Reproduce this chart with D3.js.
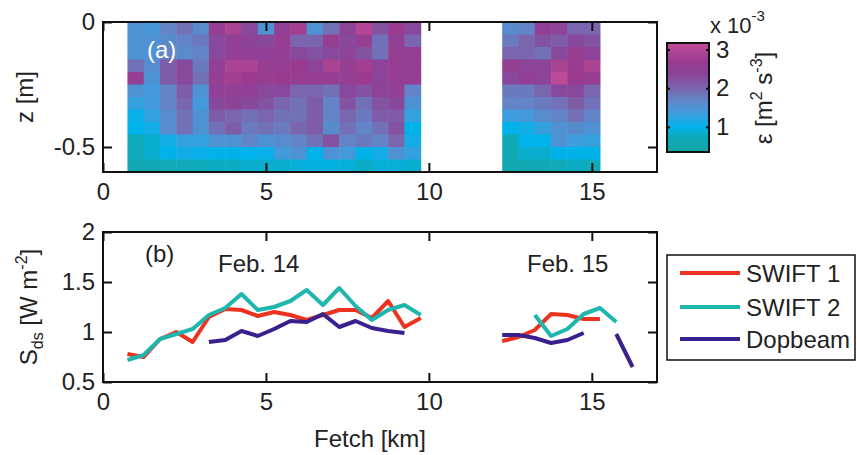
<!DOCTYPE html>
<html>
<head>
<meta charset="utf-8">
<script src="https://cdn.jsdelivr.net/npm/d3@7"></script>
<style>
  body { margin: 0; background: #fff; }
  svg text { font-family: "Liberation Sans", Arial, Helvetica, sans-serif; fill: #222; }
</style>
</head>
<body>
<div id="chart"></div>
<script>
// ---- data ----
// heat map cell centres
var cellFetch = [1.0, 1.5, 2.0, 2.5, 3.0, 3.5, 4.0, 4.5, 5.0, 5.5, 6.0, 6.5, 7.0, 7.5, 8.0, 8.5, 9.0, 9.5,
                 12.5, 13.0, 13.5, 14.0, 14.5, 15.0];
var cellDepth = [-0.025, -0.075, -0.125, -0.175, -0.225, -0.275, -0.325, -0.375, -0.425, -0.475, -0.525, -0.575];
// dissipation rate, x 10^-3 m^2 s^-3 (rows = depth, cols = fetch)
var epsilon = [
  [1.5, 1.45, 1.7, 1.9, 1.6, 2.6, 2.9, 2.3, 1.5, 2.5, 2.8, 1.5, 1.9, 2.4, 3.0, 2.2, 2.7, 2.3, 1.6, 1.7, 2.5, 2.4, 2.0, 2.0],
  [1.5, 1.5, 1.6, 1.7, 1.8, 2.3, 2.5, 2.4, 2.3, 2.6, 2.0, 2.0, 2.6, 2.3, 2.6, 1.9, 2.5, 2.0, 1.8, 2.0, 2.2, 2.1, 2.3, 2.2],
  [1.5, 1.5, 1.7, 1.6, 1.7, 2.3, 2.5, 2.5, 2.5, 2.6, 2.3, 2.2, 2.3, 2.4, 2.2, 1.9, 2.6, 2.6, 2.0, 2.0, 1.9, 2.3, 2.6, 2.4],
  [1.9, 1.6, 2.1, 2.3, 1.8, 2.5, 2.9, 2.9, 2.6, 2.6, 2.7, 2.4, 2.9, 2.6, 2.8, 2.4, 2.6, 2.6, 2.6, 2.4, 2.4, 2.9, 2.7, 2.9],
  [2.6, 1.5, 2.1, 2.3, 1.9, 2.6, 2.8, 2.7, 2.6, 2.7, 2.6, 2.6, 2.6, 2.6, 2.7, 2.4, 2.6, 2.6, 2.3, 2.5, 2.4, 3.1, 2.7, 2.6],
  [1.5, 1.4, 1.7, 2.1, 1.5, 2.5, 2.5, 2.5, 2.3, 2.3, 2.0, 2.0, 1.9, 2.3, 2.2, 2.4, 2.5, 1.7, 1.8, 1.8, 2.0, 2.3, 2.3, 2.0],
  [1.3, 1.4, 1.7, 2.0, 1.4, 2.3, 2.4, 2.3, 2.2, 2.0, 1.9, 2.1, 1.7, 2.2, 1.9, 2.2, 2.3, 1.5, 1.7, 1.7, 1.8, 1.9, 2.1, 1.9],
  [1.05, 1.3, 1.6, 1.9, 1.5, 2.1, 2.0, 1.9, 2.0, 1.9, 1.9, 2.1, 1.7, 2.0, 1.8, 2.1, 2.1, 1.3, 1.35, 1.4, 1.6, 1.7, 1.9, 1.7],
  [1.0, 1.1, 1.6, 1.9, 1.5, 1.9, 2.1, 1.8, 1.9, 1.8, 2.0, 2.1, 1.6, 1.9, 1.7, 1.9, 2.2, 1.0, 1.0, 1.1, 1.3, 1.5, 1.6, 1.5],
  [0.75, 0.85, 1.1, 1.3, 1.3, 1.5, 1.5, 1.7, 1.5, 1.6, 1.7, 1.9, 2.2, 1.7, 1.8, 1.7, 2.0, 1.1, 0.6, 1.0, 1.0, 1.5, 1.35, 1.3],
  [0.7, 0.85, 1.0, 1.1, 1.05, 1.0, 1.0, 1.0, 1.05, 1.4, 1.5, 1.0, 1.5, 1.4, 1.0, 1.1, 1.5, 1.3, 0.6, 0.85, 0.85, 1.0, 1.0, 1.0],
  [0.55, 0.6, 0.7, 0.75, 0.75, 0.8, 0.8, 0.85, 0.85, 0.85, 0.9, 0.95, 0.95, 0.9, 0.8, 0.9, 0.9, 0.85, 0.55, 0.6, 0.6, 0.7, 0.8, 0.7]
];
var cellWidth = 0.5, cellHeight = 0.05;

// colour map stops
var cmapValues = [0.35, 0.75, 1.0, 1.35, 1.7, 2.0, 2.35, 2.7, 3.17];
var cmapColors = ["#13a5a6", "#0fabbb", "#00b2ea", "#3e9ddc", "#6384c6", "#7a66ae", "#8a4499", "#9a3b8f", "#c24d98"];
var cbarTicks = [1, 2, 3];

// dissipation profiles
var fetchKm = [0.75, 1.25, 1.75, 2.25, 2.75, 3.25, 3.75, 4.25, 4.75, 5.25, 5.75, 6.25, 6.75, 7.25, 7.75, 8.25,
               8.75, 9.25, 9.75, 10.25, 10.75, 11.25, 11.75, 12.25, 12.75, 13.25, 13.75, 14.25, 14.75, 15.25, 15.75, 16.25];
var swift1 = [0.78, 0.75, 0.93, 1.0, 0.90, 1.15, 1.23, 1.22, 1.16, 1.20, 1.17, 1.12, 1.17, 1.22, 1.22, 1.14, 1.31, 1.05, 1.14,
              null, null, null, null, 0.91, 0.95, 1.02, 1.18, 1.17, 1.13, 1.13, null, null];
var swift2 = [0.72, 0.77, 0.93, 0.98, 1.03, 1.17, 1.24, 1.38, 1.22, 1.25, 1.31, 1.42, 1.27, 1.44, 1.26, 1.12, 1.22, 1.27, 1.17,
              null, null, null, null, null, null, 1.17, 0.96, 1.03, 1.18, 1.24, 1.10, null];
var dopbeam = [null, null, null, null, null, 0.90, 0.92, 1.01, 0.96, 1.03, 1.11, 1.10, 1.18, 1.05, 1.11, 1.04, 1.01, 0.99,
               null, null, null, null, null, 0.97, 0.97, 0.94, 0.89, 0.92, 0.99, null, 0.98, 0.65];

var seriesNames = ["SWIFT 1", "SWIFT 2", "Dopbeam"];
var seriesColors = ["#ec3320", "#1fb6ae", "#3a1f8e"];

var xTicks = [0, 5, 10, 15];
var zTicks = [-0.5, 0];
var sTicks = [0.5, 1, 1.5, 2];

// ---- layout ----
var svgWidth = 857, svgHeight = 455;
var left = 103, right = 657;
var topA = 22, bottomA = 172;
var topB = 232, bottomB = 382;
var fs = 24;

var svg = d3.select("#chart").append("svg")
    .attr("width", svgWidth)
    .attr("height", svgHeight);

var xscale = d3.scaleLinear().domain([0, 17]).range([left, right]);
var zscale = d3.scaleLinear().domain([-0.6, 0]).range([bottomA, topA]);
var sscale = d3.scaleLinear().domain([0.5, 2]).range([bottomB, topB]);
var color = d3.scaleLinear().domain(cmapValues).range(cmapColors).clamp(true);

// axes helper: inward ticks on all four sides
function drawFrame(yscale, yTickVals, top, bottom) {
    svg.append("g").attr("transform", `translate(0,${bottom})`)
        .call(d3.axisBottom(xscale).tickValues(xTicks).tickSize(-9).tickPadding(11).tickFormat(d => String(d)))
        .call(g => g.select(".domain").remove());
    svg.append("g").attr("transform", `translate(0,${top})`)
        .call(d3.axisTop(xscale).tickValues(xTicks).tickSize(-9).tickFormat(""))
        .call(g => g.select(".domain").remove());
    svg.append("g").attr("transform", `translate(${left},0)`)
        .call(d3.axisLeft(yscale).tickValues(yTickVals).tickSize(-9).tickPadding(8).tickFormat(d => String(d)))
        .call(g => g.select(".domain").remove());
    svg.append("g").attr("transform", `translate(${right},0)`)
        .call(d3.axisRight(yscale).tickValues(yTickVals).tickSize(-9).tickFormat(""))
        .call(g => g.select(".domain").remove());
    svg.selectAll(".tick line").attr("stroke", "#111").attr("stroke-width", 2);
    svg.selectAll(".tick text").style("font-size", fs + "px").attr("fill", "#222");
    svg.append("rect")
        .attr("x", left).attr("y", top)
        .attr("width", right - left).attr("height", bottom - top)
        .attr("fill", "none").attr("stroke", "#111").attr("stroke-width", 2);
}

// ---- panel (a): heat map ----
var cells = [];
epsilon.forEach((row, i) => row.forEach((v, j) => cells.push({ f: cellFetch[j], z: cellDepth[i], v: v })));

svg.append("g").selectAll("rect")
    .data(cells)
    .enter()
    .append("rect")
    .attr("x", d => xscale(d.f - cellWidth / 2))
    .attr("y", d => zscale(d.z + cellHeight / 2))
    .attr("width", d => xscale(d.f + cellWidth / 2) - xscale(d.f - cellWidth / 2) + 0.5)
    .attr("height", d => zscale(d.z - cellHeight / 2) - zscale(d.z + cellHeight / 2) + 0.5)
    .attr("fill", d => color(d.v));

drawFrame(zscale, zTicks, topA, bottomA);

svg.append("text").attr("x", 147).attr("y", 58)
    .style("font-size", fs + "px").style("fill", "#fff").text("(a)");

svg.append("text")
    .attr("transform", "translate(33,97) rotate(-90)")
    .attr("text-anchor", "middle")
    .style("font-size", fs + "px")
    .text("z [m]");

// colour bar
var cbX = 667, cbW = 42;
var cbScale = d3.scaleLinear().domain([0.35, 3.17]).range([152, 43]);
var grad = svg.append("defs").append("linearGradient")
    .attr("id", "cbar").attr("x1", 0).attr("x2", 0).attr("y1", 1).attr("y2", 0);
grad.selectAll("stop")
    .data(cmapValues)
    .enter()
    .append("stop")
    .attr("offset", d => (d - 0.35) / (3.17 - 0.35))
    .attr("stop-color", (d, i) => cmapColors[i]);
svg.append("rect")
    .attr("x", cbX).attr("y", cbScale(3.17))
    .attr("width", cbW).attr("height", cbScale(0.35) - cbScale(3.17))
    .attr("fill", "url(#cbar)")
    .attr("stroke", "#111").attr("stroke-width", 2);
svg.append("g").attr("transform", `translate(${cbX + cbW},0)`)
    .call(d3.axisRight(cbScale).tickValues(cbarTicks).tickSize(-3).tickPadding(7).tickFormat(d => String(d)))
    .call(g => g.select(".domain").remove())
    .call(g => g.selectAll("text").style("font-size", fs + "px").attr("fill", "#222"))
    .call(g => g.selectAll("line").attr("stroke", "#333"));
svg.append("g").attr("transform", `translate(${cbX},0)`)
    .call(d3.axisLeft(cbScale).tickValues(cbarTicks).tickSize(-3).tickFormat(""))
    .call(g => g.select(".domain").remove())
    .call(g => g.selectAll("line").attr("stroke", "#333"));

var mult = svg.append("text").attr("x", 710).attr("y", 33).style("font-size", "22px");
mult.append("tspan").text("x 10");
mult.append("tspan").attr("dy", -12).style("font-size", "15px").text("-3");

var cbl = svg.append("text")
    .attr("transform", "translate(772,98) rotate(-90)")
    .attr("text-anchor", "middle")
    .style("font-size", fs + "px");
cbl.append("tspan").text("\u03b5 [m");
cbl.append("tspan").attr("dy", -10).style("font-size", "16px").text("2");
cbl.append("tspan").attr("dy", 10).text(" s");
cbl.append("tspan").attr("dy", -10).style("font-size", "16px").text("-3");
cbl.append("tspan").attr("dy", 10).text("]");

// ---- panel (b): lines ----
drawFrame(sscale, sTicks, topB, bottomB);

var line = d3.line()
    .defined(d => d[1] !== null)
    .x(d => xscale(d[0]))
    .y(d => sscale(d[1]));

[swift1, swift2, dopbeam].forEach((vals, k) => {
    svg.append("path")
        .datum(fetchKm.map((f, i) => [f, vals[i]]))
        .attr("d", line)
        .attr("fill", "none")
        .attr("stroke", seriesColors[k])
        .attr("stroke-width", 4)
        .attr("stroke-linejoin", "round");
});

svg.append("text").attr("x", 145).attr("y", 262).style("font-size", fs + "px").text("(b)");
svg.append("text").attr("x", 218).attr("y", 272).style("font-size", fs + "px").text("Feb. 14");
svg.append("text").attr("x", 527).attr("y", 272).style("font-size", fs + "px").text("Feb. 15");

var sl = svg.append("text")
    .attr("transform", "translate(37,307) rotate(-90)")
    .attr("text-anchor", "middle")
    .style("font-size", fs + "px");
sl.append("tspan").text("S");
sl.append("tspan").attr("dy", 6).style("font-size", "16px").text("ds");
sl.append("tspan").attr("dy", -6).text(" [W m");
sl.append("tspan").attr("dy", -10).style("font-size", "16px").text("-2");
sl.append("tspan").attr("dy", 10).text("]");

svg.append("text")
    .attr("x", (left + right) / 2 - 10).attr("y", 447)
    .attr("text-anchor", "middle")
    .style("font-size", fs + "px")
    .text("Fetch [km]");

// legend
var legend = svg.append("g");
legend.append("rect")
    .attr("x", 667).attr("y", 255).attr("width", 188).attr("height", 105)
    .attr("fill", "#fff").attr("stroke", "#111").attr("stroke-width", 1.5);
var legY = [273, 307, 339];
seriesNames.forEach((name, k) => {
    legend.append("line")
        .attr("x1", 680).attr("x2", 740).attr("y1", legY[k]).attr("y2", legY[k])
        .attr("stroke", seriesColors[k]).attr("stroke-width", 4);
    legend.append("text")
        .attr("x", 746).attr("y", legY[k]).attr("dy", "0.36em")
        .style("font-size", fs + "px")
        .text(name);
});
</script>
</body>
</html>
